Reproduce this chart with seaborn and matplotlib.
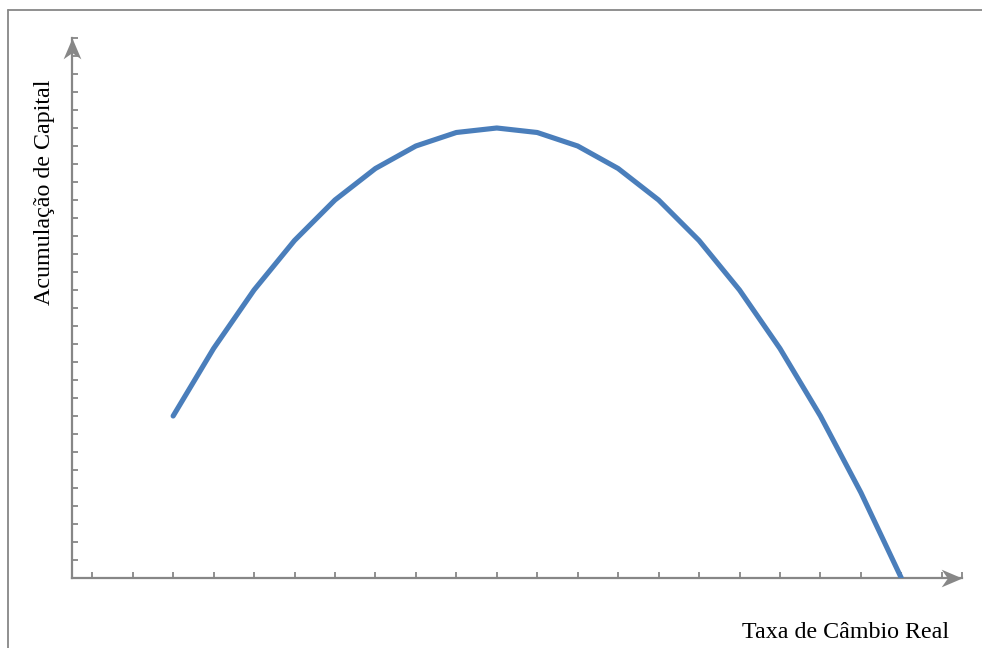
import numpy as np
import pandas as pd
import matplotlib
matplotlib.use("Agg")
import matplotlib.pyplot as plt
from matplotlib.lines import Line2D
from matplotlib.path import Path
import seaborn as sns

# valores (unidades = posições das marcas)
taxa_cambio = [2.5, 3.5, 4.5, 5.5, 6.5, 7.5, 8.5, 9.5, 10.5, 11.5,
               12.5, 13.5, 14.5, 15.5, 16.5, 17.5, 18.5, 19.5, 20.5]
acumulacao = [9.0, 12.75, 16.0, 18.75, 21.0, 22.75, 24.0, 24.75, 25.0, 24.75,
              24.0, 22.75, 21.0, 18.75, 16.0, 12.75, 9.0, 4.75, 0.0]
x_ticks = [0.5, 1.5, 2.5, 3.5, 4.5, 5.5, 6.5, 7.5, 8.5, 9.5, 10.5,
           11.5, 12.5, 13.5, 14.5, 15.5, 16.5, 17.5, 18.5, 19.5, 20.5, 21.5, 22]
y_ticks = list(range(1, 31))

sns.set_theme(style="white")
plt.rcParams["font.family"] = ["Liberation Serif", "DejaVu Serif"]

GRAY = "#878787"
BLUE = "#4A7EBB"
W, H = 982, 648

fig = plt.figure(figsize=(W / 100, H / 100), dpi=100)
ax = fig.add_axes([72 / W, 70 / H, 890 / W, 540 / H])

df = pd.DataFrame({"taxa": taxa_cambio, "acum": acumulacao})
sns.lineplot(data=df, x="taxa", y="acum", ax=ax, color=BLUE, linewidth=3.7,
             solid_capstyle="round", solid_joinstyle="round", zorder=5)

ax.set_xlim(0, 22)
ax.set_ylim(0, 30)
ax.set_xticks(x_ticks)
ax.set_yticks(y_ticks)
ax.set_xticklabels([])
ax.set_yticklabels([])
ax.tick_params(axis="both", direction="in", length=4.5, width=1.3, color=GRAY,
               bottom=True, left=True)
for s in ["top", "right"]:
    ax.spines[s].set_visible(False)
for s in ["bottom", "left"]:
    ax.spines[s].set_color(GRAY)
    ax.spines[s].set_linewidth(1.6)

# setas nos eixos (ponta do tipo "stealth")
seta_dir = Path([(0, 0), (-2, 0.85), (-1.4, 0), (-2, -0.85), (0, 0)],
                [Path.MOVETO, Path.LINETO, Path.LINETO, Path.LINETO, Path.CLOSEPOLY])
seta_cima = Path([(0, 0), (0.85, -2), (0, -1.4), (-0.85, -2), (0, 0)],
                 [Path.MOVETO, Path.LINETO, Path.LINETO, Path.LINETO, Path.CLOSEPOLY])
ax.plot([1], [0], marker=seta_dir, markersize=30, color=GRAY, mew=0,
        transform=ax.transAxes, clip_on=False)
ax.plot([0], [1], marker=seta_cima, markersize=30, color=GRAY, mew=0,
        transform=ax.transAxes, clip_on=False)

ax.set_xlabel("")
ax.set_ylabel("")
fig.text(846 / W, 1 - 633 / H, "Taxa de Câmbio Real", ha="center", va="center",
         fontsize=17.3, color="black")
fig.text(45 / W, 1 - 192 / H, "Acumulação de Capital", ha="center", va="center",
         rotation=90, fontsize=17.3, color="black")

# moldura da figura
fig.add_artist(Line2D([7.5 / W, 7.5 / W], [0, 1 - 9.5 / H], transform=fig.transFigure,
                      color=GRAY, lw=1.3))
fig.add_artist(Line2D([7.5 / W, 1], [1 - 9.5 / H, 1 - 9.5 / H], transform=fig.transFigure,
                      color=GRAY, lw=1.3))

fig.savefig("out.png", dpi=100)
